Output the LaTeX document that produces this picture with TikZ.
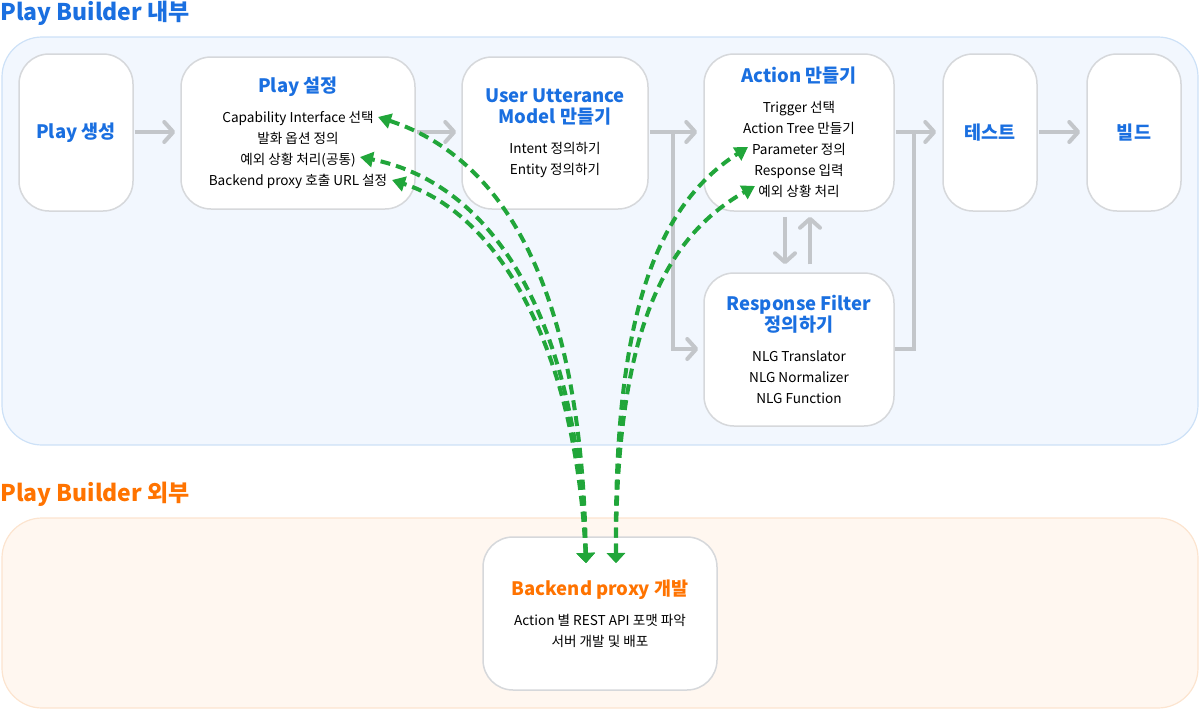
\documentclass[tikz,border=0pt]{standalone}
\usepackage{fontspec}
\setmainfont{Noto Sans CJK KR}
\usetikzlibrary{arrows.meta}
\definecolor{tblue}{HTML}{1A6FE0}
\definecolor{torange}{HTML}{FF7300}
\definecolor{pblue}{HTML}{F2F7FE}
\definecolor{pbluel}{HTML}{CDE1F7}
\definecolor{porange}{HTML}{FFF7F0}
\definecolor{porangel}{HTML}{FCE4CF}
\definecolor{gline}{HTML}{C3C6CA}
\definecolor{nbord}{HTML}{D6D8DB}
\definecolor{ggreen}{HTML}{21A63A}
\newcommand{\ttl}[1]{{\fontsize{18.5}{22}\selectfont\bfseries\color{tblue}#1}}
\newcommand{\ttlo}[1]{{\fontsize{18.5}{22}\selectfont\bfseries\color{torange}#1}}
\begin{document}
\begin{tikzpicture}[x=1pt,y=-1pt,
  panel/.style={rounded corners=40pt,line width=1.2pt},
  box/.style={draw=nbord,line width=1.5pt,fill=white,rounded corners=30pt,align=center,
    font=\fontsize{13.6}{21}\selectfont,inner sep=0pt},
  flow/.style={draw=gline,line width=4pt,-{Straight Barb[length=9pt,width=20pt,round]}},
  flowline/.style={draw=gline,line width=4pt},
  link/.style={draw=ggreen,line width=4pt,dash pattern=on 10pt off 6pt,
    {Triangle[length=10pt,width=18pt]}-{Triangle[length=13pt,width=15pt]}},
  hdr/.style={anchor=west,inner sep=0pt,font=\fontsize{23}{26}\selectfont\bfseries}
]
\useasboundingbox (0,0) rectangle (1200,710);
% panels
\draw[panel,fill=pblue,draw=pbluel] (2,37) rectangle (1198,445);
\draw[panel,fill=porange,draw=porangel] (2,518) rectangle (1198,708);
\node[hdr,text=tblue] (h1) at (0,13) {Play Builder 내부};
\node[hdr,text=torange] (h2) at (0,494) {Play Builder 외부};
% nodes
\node[box,minimum width=114pt,minimum height=157pt] (gen) at (76,132.5) {\ttl{Play 생성}};
\node[box,minimum width=234pt,minimum height=152pt] (set) at (298,133)
  {\ttl{Play 설정}\\[9pt]Capability Interface 선택\\발화 옵션 정의\\예외 상황 처리(공통)\\Backend proxy 호출 URL 설정};
\node[box,minimum width=186pt,minimum height=152pt] (utt) at (555,133)
  {\ttl{User Utterance}\\\ttl{Model 만들기}\\[9pt]Intent 정의하기\\Entity 정의하기};
\node[box,minimum width=190pt,minimum height=157pt] (act) at (799,132.5)
  {\ttl{Action 만들기}\\[9pt]Trigger 선택\\Action Tree 만들기\\Parameter 정의\\Response 입력\\예외 상황 처리};
\node[box,minimum width=94pt,minimum height=157pt] (test) at (990,132.5) {\ttl{테스트}};
\node[box,minimum width=94pt,minimum height=157pt] (build) at (1134,132.5) {\ttl{빌드}};
\node[box,minimum width=190pt,minimum height=153pt] (rf) at (799,349.5)
  {\ttl{Response Filter}\\\ttl{정의하기}\\[9pt]NLG Translator\\NLG Normalizer\\NLG Function};
\node[box,minimum width=234pt,minimum height=153pt] (be) at (600,613.5)
  {\ttlo{Backend proxy 개발}\\[9pt]Action 별 REST API 포맷 파악\\서버 개발 및 배포};
% gray flow
\coordinate (j1) at (673,132);
\coordinate (j2) at (914,132);
\draw[flow,shorten <=1pt,shorten >=5pt] (gen.east|-0,132) -- (set.west|-0,132);
\draw[flow,shorten <=1pt,shorten >=5pt] (set.east|-0,132) -- (utt.west|-0,132);
\draw[flow,shorten <=1pt,shorten >=6pt] (utt.east|-0,132) -- (act.west|-0,132);
\draw[flow,shorten >=5pt] (j1) |- (rf.west|-0,349);
\draw[flow,shorten <=1pt,shorten >=6pt] (act.east|-0,132) -- (test.west|-0,132);
\draw[flowline] (rf.east|-0,349) -| (j2);
\draw[flow,shorten <=1pt,shorten >=6pt] (test.east|-0,132) -- (build.west|-0,132);
\draw[flow,shorten <=5pt,shorten >=8pt] ([xshift=-14pt]act.south) -- ([xshift=-14pt]rf.north);
\draw[flow,shorten <=8pt,shorten >=5pt] ([xshift=11pt]rf.north) -- ([xshift=11pt]act.south);
% green links
\coordinate (t1) at (378,117);
\coordinate (t2) at (360,157);
\coordinate (t3) at (392,180);
\coordinate (t4) at (748,147);
\coordinate (t5) at (755,186);
\coordinate (b1) at (586,563);
\coordinate (b2) at (616,563);
\draw[link] (b1) .. controls (582,300) and (510,160) .. (t1);
\draw[link] (b1) .. controls (578,330) and (500,185) .. (t2);
\draw[link] (b1) .. controls (576,350) and (500,215) .. (t3);
\draw[link] (b2) .. controls (614,330) and (650,210) .. (t4);
\draw[link] (b2) .. controls (616,340) and (660,240) .. (t5);
\end{tikzpicture}
\end{document}
